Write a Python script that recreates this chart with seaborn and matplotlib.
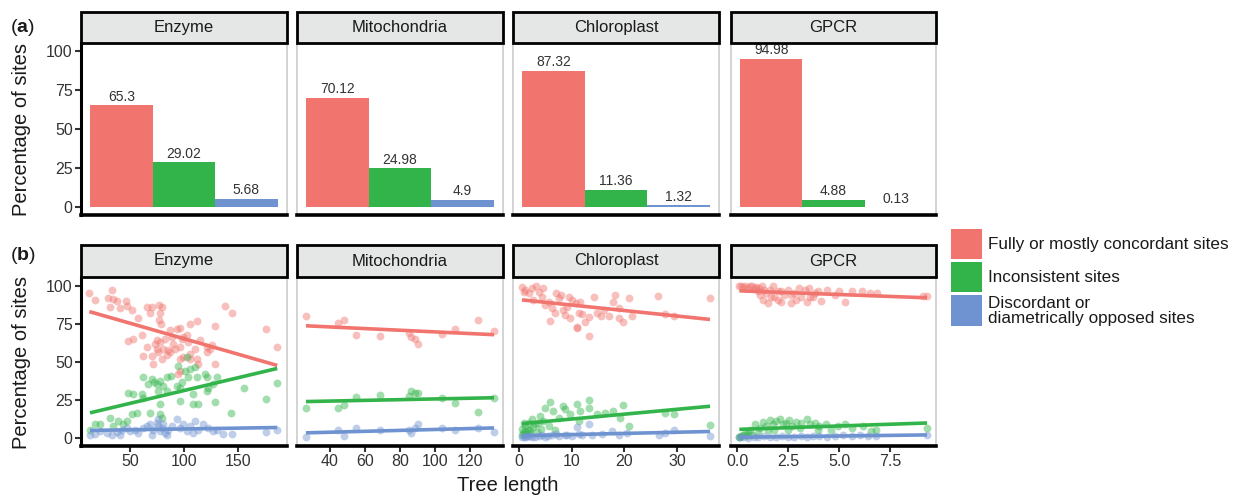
import seaborn as sns
import matplotlib.pyplot as plt
import matplotlib.ticker as mticker
from matplotlib.patches import Rectangle
import pandas as pd

sns.set_style('ticks')
plt.rcParams['font.family'] = ['Liberation Sans', 'DejaVu Sans']
plt.rcParams['mathtext.fontset'] = 'custom'
plt.rcParams['mathtext.rm'] = 'Liberation Sans'
plt.rcParams['mathtext.bf'] = 'Liberation Sans:bold'

W, H = 1234, 498

datasets = ['Enzyme', 'Mitochondria', 'Chloroplast', 'GPCR']
site_types = ['Fully or mostly concordant sites', 'Inconsistent sites',
              'Discordant or\ndiametrically opposed sites']
colors = ['#F1746E', '#32B44A', '#6F93D0']

# (a) overall percentage of each site type
pct_enzyme = [65.3, 29.02, 5.68]
pct_mito = [70.12, 24.98, 4.9]
pct_chloro = [87.32, 11.36, 1.32]
pct_gpcr = [94.98, 4.88, 0.13]

# (b) per-tree percentages against tree length
enz_conc_x = [12.5, 17.7, 33, 30, 34.7, 38.4, 31.6, 40.8, 46.4, 47, 51.6, 57.7, 65.4, 70, 77, 79.3, 68.5, 77.7,
              77, 78.4, 87, 93, 96.2, 105.4, 111.6, 128.5, 137.7, 143.9, 176, 186, 53.1, 48.5, 60.8, 65.4, 62.4,
              70, 74.7, 77.7, 82.4, 85.4, 71.6, 79.3, 96.2, 99.3, 102.3, 105.4, 111.6, 120.8, 125.4, 96.2, 94.7,
              74.7, 99.3, 88.5, 73.1, 76.2, 80.8, 83.9, 87, 90.1, 91.6, 97.7, 103.9, 110, 114.7, 120.8, 123.9,
              96.2, 105.4, 113.1, 128.5]
enz_conc_y = [95, 90.5, 97, 92, 91, 90, 86, 85, 90, 86.6, 84, 78.4, 85.7, 85.7, 87, 86, 81.7, 82, 77.7, 74.6,
              70.7, 71.8, 72.4, 75, 77, 73.3, 86.6, 81.7, 71.3, 59.6, 65, 63.6, 67.4, 59.6, 54, 53.5, 58.5, 63,
              65, 57.4, 48.6, 52, 59.6, 66.3, 67.4, 55.2, 52, 59.6, 60.7, 44.2, 42, 64, 53, 66.3, 61.8, 56.3,
              58.5, 54.1, 56.3, 61.8, 58.5, 65.2, 62.9, 58.5, 64, 56.3, 58.5, 51.9, 51.9, 48.6, 48.6]
enz_inc_x = [17.7, 13.1, 31.6, 39.3, 47, 51.6, 48.5, 53.1, 60.8, 62.4, 67, 70, 74.7, 77.7, 80.8, 84.5, 76.2,
             77.7, 68.5, 77.7, 79.3, 94.7, 102.3, 103.9, 96.2, 96.2, 108.5, 108.5, 113.1, 110, 120.8, 122.4,
             128.5, 119.3, 143, 155.3, 176, 186, 62.4, 83.9, 93.1, 100.8, 43.3, 56.2, 111.6, 127, 120.8, 130,
             105.4, 22.4, 34.7, 72.5, 88, 98]
enz_inc_y = [8.9, 5.5, 13.3, 11, 11, 15.5, 29.8, 28.7, 28.7, 39.8, 35.3, 38.7, 35.3, 37.5, 34.2, 39.8, 31, 22,
             16.6, 15.5, 13.3, 47.5, 53, 39.8, 33, 24.3, 28.7, 22, 22, 46.4, 39.8, 33, 23.9, 42, 16.6, 33, 25.4,
             35.8, 26.5, 31, 34.2, 44.2, 8.9, 16.6, 39.8, 35.3, 31, 39.8, 45.3, 8.9, 7.7, 36.4, 40.5, 36.8]
enz_disc_x = [13.1, 17.7, 22.4, 28.5, 33.1, 37.7, 42.4, 47, 50, 54.7, 57.7, 62.4, 65.4, 68.5, 71.6, 74.7, 76.2,
              77.7, 79.3, 80.8, 82.4, 85.4, 88.5, 93.1, 96.2, 99.3, 102.3, 105.4, 110, 113.1, 117.7, 122.4, 127,
              130, 136.2, 143.9, 176, 186, 70, 83.9, 40.8, 108.5, 76.2]
enz_disc_y = [2.2, 2.7, 4.4, 3.3, 2.2, 4, 5.5, 6.6, 4.4, 5.5, 3.3, 6.6, 7.7, 8.9, 5.5, 10, 7.7, 4.4, 6.6, 8.9,
              3.3, 5.5, 7.7, 12.2, 6.6, 8.9, 4.4, 7.7, 11, 5.5, 8.9, 6.6, 4.4, 5.5, 2.7, 2.7, 4, 4.9, 2.2, 2.2,
              2.2, 3.3, 12.2]

mito_x = [26.3, 44.4, 47.8, 54.8, 68.5, 84.8, 86.1, 88.4, 89.9, 103.8, 111.4, 124.6, 133.5]
mito_conc_y = [80, 75.5, 77.7, 67.4, 67.1, 68.9, 66.3, 64.9, 61.8, 68, 71.8, 77.7, 70.2]
mito_inc_y = [19.9, 19.9, 21.7, 27, 28.3, 27.6, 30.5, 29.6, 29.6, 26.5, 23.2, 16.8, 26.5]
mito_disc_y = [0.9, 5.5, 1.3, 6.4, 4.9, 4.9, 3.3, 6.6, 9.3, 6.2, 5.5, 6.2, 4]

chl_conc_x = [0.5, 0.8, 1.1, 1.8, 2.4, 3.2, 3.7, 4.5, 4.3, 4.9, 5.6, 5.9, 7.0, 7.5, 8.0, 8.4, 8.7, 9.4, 10, 10.7,
              11, 11.3, 11.6, 11.9, 13.2, 13.3, 14.3, 14.8, 16.1, 17, 17.9, 18.3, 18.9, 19.8, 20.9, 26.4, 27.8,
              29.4, 36.3, 6.2, 9.1, 9.7, 6.8, 2.7, 10.9, 12.5, 15.5, 19, 21.5]
chl_conc_y = [98.9, 96, 97.2, 95.4, 98.3, 99.5, 96, 98.3, 92.8, 87.2, 89.4, 76.9, 95.4, 91.6, 93.9, 83.9, 80.6,
              92.8, 90.5, 88.3, 72.9, 81.7, 89.4, 81.3, 66.7, 79.1, 92.3, 81.7, 83.9, 79.9, 89.4, 93.9, 85, 76.2,
              91.6, 93.2, 81.3, 79.9, 91.6, 85, 86.1, 78.4, 81.7, 90.5, 72, 76, 80, 78.5, 80]
chl_inc_x = [0.8, 1.1, 2.1, 3.0, 4.0, 4.9, 5.9, 6.5, 7.5, 8.4, 8.7, 9.7, 11, 11.6, 13.2, 13.3, 14.8, 16.4, 17.9,
             19.2, 19.8, 20.9, 27.8, 29.5, 36.3, 2.4, 4.6, 5.6, 6.8, 11.3, 0.5, 0.7, 1.0, 1.3, 1.6, 2.0, 2.6,
             3.3, 3.5, 4.2, 0.6, 1.9]
chl_inc_y = [9.9, 4.4, 5.5, 8.9, 14.4, 19.9, 23.9, 17.7, 13.3, 21, 18.8, 15.5, 22.1, 17.7, 24.7, 19.9, 15.5,
             16.6, 17.7, 13.3, 21.7, 7.7, 16.6, 15.5, 8.2, 12.2, 11.1, 7.7, 5.5, 11.1, 6, 3, 8, 2.5, 5, 3.5, 7,
             4, 10, 6, 2, 9.5]
chl_disc_x = [0.5, 1.5, 2.4, 3.7, 4.9, 6.2, 7.5, 8.7, 10, 11.3, 13.2, 13.8, 15.7, 17.6, 18.9, 20.5, 26.5, 27.8,
              29.4, 36.3, 11.9, 11, 0.8, 1.2, 2.0, 3.0, 4.3, 5.5, 7.0, 9.0]
chl_disc_y = [0.5, 1.1, 0.5, 1.3, 0.9, 2.2, 1.3, 2.2, 1.1, 2.7, 8.9, 2.2, 2.7, 4.4, 2.2, 3.3, 1.8, 3.3, 4.9, 1.1,
              2.2, 7.1, 0.3, 0.8, 1.5, 0.6, 1.8, 1.0, 2.5, 1.6]

gpcr_conc_x = [0.2, 0.4, 0.7, 0.85, 1.0, 1.2, 1.26, 1.4, 1.6, 1.75, 1.8, 2.0, 2.15, 2.3, 2.5, 2.65, 2.8, 3.0,
               3.1, 3.4, 3.5, 3.7, 3.95, 4.1, 4.4, 4.8, 5.0, 5.3, 5.6, 6.1, 6.5, 6.85, 9.1, 9.3, 1.3, 1.67, 2.15,
               2.65, 3.3, 3.8, 1.1, 1.5, 2.0, 2.9, 3.55, 0.1, 0.3, 0.5, 0.6, 0.9, 1.05]
gpcr_conc_y = [99.5, 99.4, 99.5, 98.3, 96.1, 99.4, 90.5, 95, 97.2, 99.4, 92.8, 96.1, 89.4, 93.9, 97.2, 88.3, 95,
               98.3, 92.8, 89.4, 98.3, 92.8, 96.1, 90.1, 97.2, 93.9, 96.7, 89.4, 96.7, 96.1, 95, 95.4, 93.2, 93.2,
               97.2, 92.3, 96.1, 93.9, 97.2, 95.4, 93.9, 88.8, 90.5, 90.5, 92.3, 99.8, 98.8, 98.5, 99.7, 99, 98.5]
gpcr_inc_x = [0.1, 0.36, 0.6, 0.85, 1.1, 1.26, 1.4, 1.6, 1.75, 1.9, 2.1, 2.25, 2.4, 2.55, 2.7, 2.9, 3.05, 3.4,
              3.55, 3.8, 4.0, 4.35, 4.6, 4.95, 5.3, 5.6, 6.15, 6.55, 6.8, 9.3, 1.8, 2.5, 3.1, 3.95, 1.0, 1.5,
              0.2, 0.3, 0.45, 0.5, 0.7, 0.15]
gpcr_inc_y = [0.5, 2.7, 4.9, 8.9, 6.6, 10.6, 7.7, 11.5, 8.9, 11.1, 12.2, 8.9, 10, 11.5, 7.7, 10.6, 6.6, 12.2,
              8.9, 10, 7.7, 9.3, 5.5, 7.7, 9.3, 6.2, 7.7, 4.4, 4.9, 6.2, 5.5, 5.5, 10, 5.5, 3.3, 4.9,
              1.2, 2.0, 1.5, 3.0, 2.2, 0.8]
gpcr_disc_x = [0.1, 0.3, 0.5, 0.8, 1.0, 1.3, 1.6, 1.9, 2.2, 2.5, 2.8, 3.1, 3.4, 3.7, 4.0, 4.4, 4.8, 5.2, 5.6,
               6.0, 6.4, 6.8, 9.3]
gpcr_disc_y = [0.3, 0.5, 0.2, 0.8, 0.4, 1.0, 0.6, 0.9, 1.2, 0.5, 0.8, 1.4, 0.7, 1.1, 1.5, 0.9, 1.3, 1.8, 1.0,
               1.6, 1.2, 1.4, 2.0]

bar_data = [pct_enzyme, pct_mito, pct_chloro, pct_gpcr]
scatter_data = [
    [(enz_conc_x, enz_conc_y), (enz_inc_x, enz_inc_y), (enz_disc_x, enz_disc_y)],
    [(mito_x, mito_conc_y), (mito_x, mito_inc_y), (mito_x, mito_disc_y)],
    [(chl_conc_x, chl_conc_y), (chl_inc_x, chl_inc_y), (chl_disc_x, chl_disc_y)],
    [(gpcr_conc_x, gpcr_conc_y), (gpcr_inc_x, gpcr_inc_y), (gpcr_disc_x, gpcr_disc_y)],
]
x_ticks = [[50, 100, 150], [40, 60, 80, 100, 120], [0, 10, 20, 30], [0.0, 2.5, 5.0, 7.5]]
x_lims = [(4.8, 195), (21.2, 138.6), (-1.2, 38.0), (-0.31, 9.74)]

# layout in pixels
cols = [(81, 287), (297, 503), (513, 719), (731, 936)]
rows = {'a': (43, 215), 'b': (277, 446)}
strips = {'a': (12, 43), 'b': (245, 277)}

fig = plt.figure(figsize=(W / 100, H / 100), dpi=100)


def fbox(x0, y0, x1, y1):
    return [x0 / W, 1 - y1 / H, (x1 - x0) / W, (y1 - y0) / H]


def style_panel(ax, first):
    for s in ax.spines.values():
        s.set_color('#cccccc')
        s.set_linewidth(1.2)
    ax.spines['top'].set_visible(False)
    ax.spines['bottom'].set_color('black')
    ax.spines['bottom'].set_linewidth(2.6)
    if first:
        ax.spines['left'].set_color('black')
        ax.spines['left'].set_linewidth(2.2)
        ax.tick_params(axis='y', length=4, width=1.5, color='#333333',
                       labelsize=11.5, labelcolor='#333333', pad=2)
    else:
        ax.tick_params(axis='y', left=False, labelleft=False)
    ax.set_yticks([0, 25, 50, 75, 100])
    ax.set_xlabel('')
    ax.set_ylabel('')


def draw_strip(x0, x1, y0, y1, label):
    fig.add_artist(Rectangle((x0 / W, 1 - y1 / H), (x1 - x0) / W, (y1 - y0) / H,
                             transform=fig.transFigure, facecolor='#E5E6E6',
                             edgecolor='black', linewidth=2))
    fig.text((x0 + x1) / 2 / W, 1 - (y0 + y1) / 2 / H, label, ha='center', va='center',
             fontsize=12, color='#1a1a1a')


for i, name in enumerate(datasets):
    x0, x1 = cols[i]

    # (a) bars
    ax = fig.add_axes(fbox(x0, rows['a'][0], x1, rows['a'][1]))
    df = pd.DataFrame({'type': site_types, 'pct': bar_data[i]})
    sns.barplot(data=df, x='type', y='pct', hue='type', palette=colors, width=1,
                saturation=1, legend=False, linewidth=0, ax=ax)
    for c in ax.containers:
        ax.bar_label(c, fmt='%g', fontsize=10, padding=1, color='#333333')
    ax.set_xlim(-0.65, 2.65)
    ax.set_ylim(-4.8, 105)
    ax.set_xticks([])
    style_panel(ax, i == 0)
    draw_strip(x0, x1, strips['a'][0], strips['a'][1], name)

    # (b) scatter with linear fits
    ax = fig.add_axes(fbox(x0, rows['b'][0], x1, rows['b'][1]))
    for (xs, ys), c in zip(scatter_data[i], colors):
        sns.scatterplot(x=xs, y=ys, color=c, s=32, alpha=0.45, linewidth=0, ax=ax)
    for (xs, ys), c in zip(scatter_data[i], colors):
        sns.regplot(x=xs, y=ys, scatter=False, ci=None, color=c,
                    line_kws=dict(lw=2.6, solid_capstyle='butt'), ax=ax)
    ax.set_xlim(*x_lims[i])
    ax.set_ylim(-5.3, 105.6)
    ax.set_xticks(x_ticks[i])
    if name == 'GPCR':
        ax.xaxis.set_major_formatter(mticker.FormatStrFormatter('%.1f'))
    ax.tick_params(axis='x', length=4, width=1.5, color='#333333',
                   labelsize=11.5, labelcolor='#333333', pad=2)
    style_panel(ax, i == 0)
    draw_strip(x0, x1, strips['b'][0], strips['b'][1], name)

# row labels and axis titles
fig.text(10 / W, 1 - 28 / H, r'($\mathbf{a}$)', fontsize=14, va='center', color='#1a1a1a')
fig.text(10 / W, 1 - 255 / H, r'($\mathbf{b}$)', fontsize=14, va='center', color='#1a1a1a')
for yc in (129, 362):
    fig.text(22 / W, 1 - yc / H, 'Percentage of sites', rotation=90, ha='center', va='center',
             fontsize=14.5, color='#1a1a1a')
fig.text(508 / W, 1 - 485 / H, 'Tree length', ha='center', va='center', fontsize=14.5, color='#1a1a1a')

# legend
leg_rows = [(229, 259), (262, 292), (295, 326)]
for (y0, y1), c, label in zip(leg_rows, colors, site_types):
    fig.add_artist(Rectangle((951 / W, 1 - y1 / H), 31 / W, (y1 - y0) / H,
                             transform=fig.transFigure, facecolor=c, edgecolor='none'))
    fig.text(988 / W, 1 - (y0 + y1) / 2 / H, label, ha='left', va='center', fontsize=12.3,
             linespacing=1.0, color='#1a1a1a')

fig.savefig('out.png', dpi=100)
